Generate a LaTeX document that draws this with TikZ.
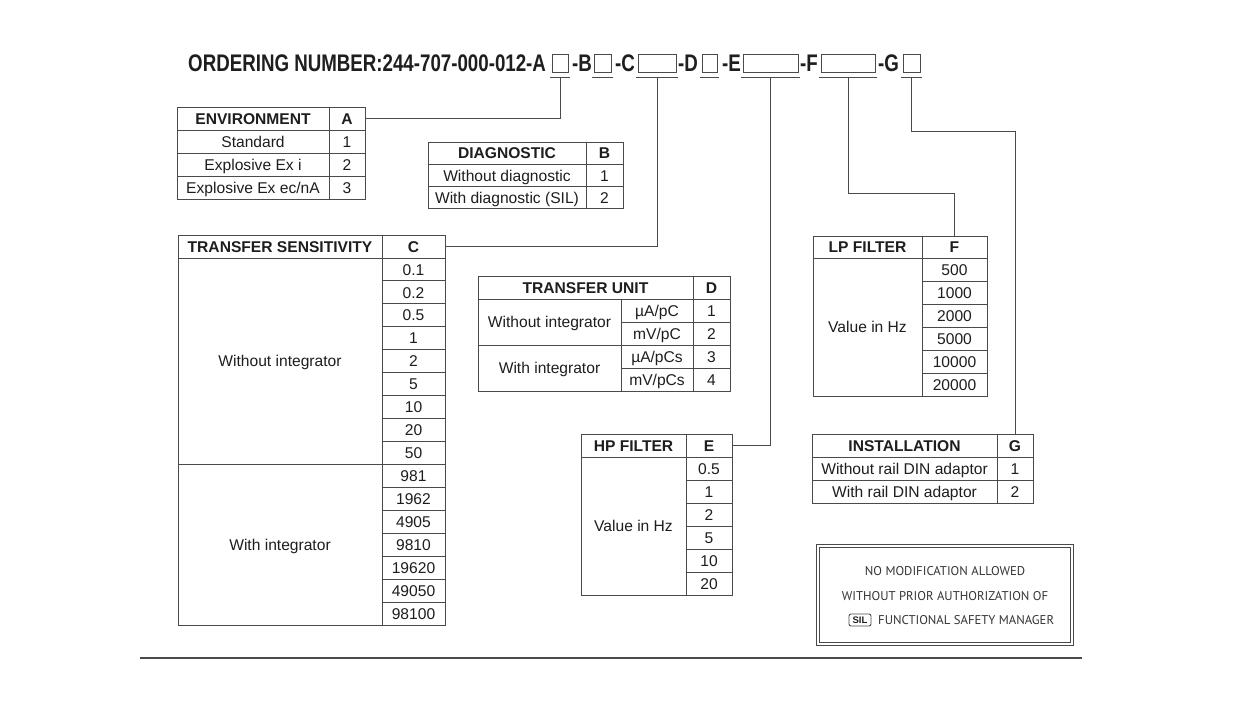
\documentclass[tikz,border=0pt]{standalone}
\usepackage{fontspec}
\setmainfont{Liberation Sans}
\newfontfamily\titlefont[FakeStretch=0.78]{Liberation Sans}
\newfontfamily\notefont{PT Sans}
\usetikzlibrary{calc}
\definecolor{rule}{HTML}{4A4A4A}
\definecolor{ink}{HTML}{1E1E1E}
\newcommand{\tabsize}{\fontsize{15.6pt}{18pt}\selectfont}

\begin{document}
\begin{tikzpicture}[x=1pt, y=-1pt,
    cell/.style={draw=rule, line width=0.9pt, inner sep=0pt, outer sep=0pt,
        minimum height=23pt, anchor=north west, text=ink, font=\tabsize,
        text height=11.2pt, text depth=0pt},
    hcell/.style={cell, font=\tabsize\bfseries},
    slot/.style={draw=rule, line width=0.9pt, inner sep=0pt, outer sep=0pt,
        minimum height=18pt, anchor=north west},
    code/.style={anchor=base west, inner sep=0pt, text=ink,
        font=\titlefont\fontsize{24pt}{28pt}\selectfont\bfseries},
    conn/.style={draw=rule, line width=0.9pt},
    note/.style={inner sep=0pt, text=ink!90,
        font=\notefont\fontsize{12.7pt}{15pt}\selectfont}
]
\path[fill=white] (0,0) rectangle (1259,710);
\useasboundingbox (0,0) rectangle (1259,710);

% Ordering number (top line)
\node[code] (title) at (188,71) {ORDERING NUMBER:244-707-000-012-A};
\node[slot, minimum width=16] (sA) at (552,54) {};
\node[code] (lB) at (572,71) {-B};
\node[slot, minimum width=17] (sB) at (594,54) {};
\node[code] (lC) at (615,71) {-C};
\node[slot, minimum width=38] (sC) at (638,54) {};
\node[code] (lD) at (678,71) {-D};
\node[slot, minimum width=15] (sD) at (702,54) {};
\node[code] (lE) at (722,71) {-E};
\node[slot, minimum width=55] (sE) at (743,54) {};
\node[code] (lF) at (800,71) {-F};
\node[slot, minimum width=54] (sF) at (821,54) {};
\node[code] (lG) at (878,71) {-G};
\node[slot, minimum width=17] (sG) at (903,54) {};

% Ticks under the slots
\foreach \s in {sA,sB,sC,sD,sE,sF,sG}
    \draw[conn] ($(\s.south west)+(-2,5)$) -- ($(\s.south east)+(2,5)$);

% Environment (A)
\node[hcell, minimum width=152] (envH) at (177,107) {ENVIRONMENT};
\node[hcell, minimum width=36] (envA) at (329,107) {A};
\node[cell, minimum width=152] (env1) at (177,130) {Standard};
\node[cell, minimum width=36] (envV1) at (329,130) {1};
\node[cell, minimum width=152] (env2) at (177,153) {Explosive Ex i};
\node[cell, minimum width=36] (envV2) at (329,153) {2};
\node[cell, minimum width=152] (env3) at (177,176) {Explosive Ex ec/nA};
\node[cell, minimum width=36] (envV3) at (329,176) {3};

% Diagnostic (B)
\node[hcell, minimum width=158, minimum height=22.3] (diagH) at (428,142) {DIAGNOSTIC};
\node[hcell, minimum width=37, minimum height=22.3] (diagB) at (586,142) {B};
\node[cell, minimum width=158, minimum height=22.3] (diag1) at (428,164.3) {Without diagnostic};
\node[cell, minimum width=37, minimum height=22.3] (diagV1) at (586,164.3) {1};
\node[cell, minimum width=158, minimum height=22.3] (diag2) at (428,186.6) {With diagnostic (SIL)};
\node[cell, minimum width=37, minimum height=22.3] (diagV2) at (586,186.6) {2};

% Transfer sensitivity (C)
\node[hcell, minimum width=204] (tsH) at (178,235) {TRANSFER SENSITIVITY};
\node[hcell, minimum width=63] (tsC) at (382,235) {C};
\node[cell, minimum width=204, minimum height=206.5] (tsG1) at (178,258) {Without integrator};
\node[cell, minimum width=204, minimum height=160.6] (tsG2) at (178,464.5) {With integrator};
\foreach \v [count=\i from 0] in {0.1,0.2,0.5,1,2,5,10,20,50,981,1962,4905,9810,19620,49050,98100}
    \node[cell, minimum width=63, minimum height=22.94] (tsV\i) at (382,258+22.94*\i) {\v};

% Transfer unit (D)
\node[hcell, minimum width=215] (tuH) at (478,276) {TRANSFER UNIT};
\node[hcell, minimum width=37] (tuD) at (693,276) {D};
\node[cell, minimum width=143, minimum height=46] (tuG1) at (478,299) {Without integrator};
\node[cell, minimum width=143, minimum height=46] (tuG2) at (478,345) {With integrator};
\foreach \u [count=\n] in {µA/pC, mV/pC, µA/pCs, mV/pCs} {
    \node[cell, minimum width=72] (tuU\n) at (621,276+23*\n) {\u};
    \node[cell, minimum width=37] (tuV\n) at (693,276+23*\n) {\n};
}

% HP filter (E)
\node[hcell, minimum width=105] (hpH) at (581,434) {HP FILTER};
\node[hcell, minimum width=46] (hpE) at (686,434) {E};
\node[cell, minimum width=105, minimum height=138] (hpG) at (581,457) {Value in Hz};
\foreach \v [count=\n] in {0.5,1,2,5,10,20}
    \node[cell, minimum width=46] (hpV\n) at (686,434+23*\n) {\v};

% LP filter (F)
\node[hcell, minimum width=109, minimum height=22] (lpH) at (813,236) {LP FILTER};
\node[hcell, minimum width=65, minimum height=22] (lpF) at (922,236) {F};
\node[cell, minimum width=109, minimum height=138] (lpG) at (813,258) {Value in Hz};
\foreach \v [count=\n] in {500,1000,2000,5000,10000,20000}
    \node[cell, minimum width=65] (lpV\n) at (922,235+23*\n) {\v};

% Installation (G)
\node[hcell, minimum width=185] (instH) at (812,434) {INSTALLATION};
\node[hcell, minimum width=36] (instG) at (997,434) {G};
\node[cell, minimum width=185] (inst1) at (812,457) {Without rail DIN adaptor};
\node[cell, minimum width=36] (instV1) at (997,457) {1};
\node[cell, minimum width=185] (inst2) at (812,480) {With rail DIN adaptor};
\node[cell, minimum width=36] (instV2) at (997,480) {2};

% Slot -> table connectors
\draw[conn] ($(sA.south)+(0,5)$) |- (envA.east);
\draw[conn] ($(sB.south)+(0,5)$) -- ($(sB.south)+(0,5)$ |- diagB.north);
\draw[conn] ($(sC.south)+(0,5)$) |- (tsC.east);
\draw[conn] ($(sD.south)+(0,5)$) -- ($(sD.south)+(0,5)$ |- tuD.north);
\draw[conn] ($(sE.south)+(0,5)$) |- (hpE.east);
\draw[conn] ($(sF.south)+(0,5)$) -- ++(0,116) -| (lpF.north);
\draw[conn] ($(sG.south)+(0,5)$) -- ++(0,54) -| (instG.north);

% Notice box (double frame)
\node[draw=rule, line width=1pt, anchor=north west, inner sep=0pt,
    minimum width=257, minimum height=101] (notice) at (816,544) {};
\draw[rule, line width=0.8pt] ($(notice.north west)+(3.5,3.5)$) rectangle ($(notice.south east)+(-3.5,-3.5)$);
\node[note] (n1) at (945,571) {NO MODIFICATION ALLOWED};
\node[note] (n2) at (945,596) {WITHOUT PRIOR AUTHORIZATION OF};
\node[draw=rule, rounded corners=2pt, line width=0.9pt, inner sep=0pt,
    minimum width=22, minimum height=12, text=ink,
    font=\fontsize{9.5pt}{10pt}\selectfont\bfseries] (sil) at (860,620) {SIL};
\node[note, anchor=west] (n3) at (878,620) {FUNCTIONAL SAFETY MANAGER};

% Bottom rule
\draw[rule, line width=2pt] (140,658) -- (1082,658);

\end{tikzpicture}
\end{document}
